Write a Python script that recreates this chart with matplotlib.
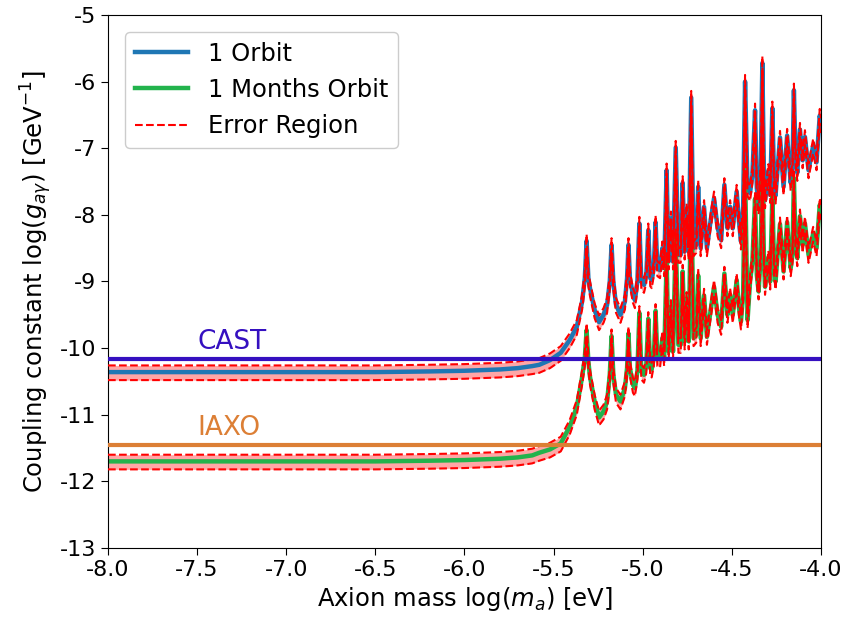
import matplotlib
matplotlib.use("Agg")
import matplotlib.pyplot as plt
import numpy as np

plt.rcParams['axes.unicode_minus'] = False
plt.rcParams['font.family'] = ['DejaVu Sans']
plt.rcParams['mathtext.fontset'] = 'dejavusans'

# ---- data ----
log_mass = [-8.0, -7.0, -6.5, -6.2, -6.0, -5.8, -5.7, -5.62, -5.58, -5.52, -5.46, -5.41, -5.37,
            -5.34, -5.325, -5.315, -5.305, -5.296, -5.27, -5.245, -5.22, -5.20, -5.185, -5.175,
            -5.165, -5.15, -5.125, -5.10, -5.088, -5.08, -5.072, -5.055, -5.044, -5.03, -5.019,
            -5.008, -4.993, -4.98, -4.969, -4.958, -4.95, -4.938, -4.928, -4.918, -4.903, -4.89,
            -4.88, -4.866, -4.855, -4.842, -4.83, -4.815, -4.80, -4.787, -4.776, -4.765, -4.754,
            -4.742, -4.728, -4.715, -4.70, -4.689, -4.675, -4.656, -4.64, -4.62, -4.60, -4.58,
            -4.56, -4.542, -4.525, -4.51, -4.495, -4.473, -4.46, -4.449, -4.437, -4.426, -4.412,
            -4.398, -4.385, -4.37, -4.36, -4.35, -4.338, -4.329, -4.32, -4.314, -4.295, -4.285,
            -4.273, -4.263, -4.255, -4.23, -4.21, -4.19, -4.17, -4.16, -4.152, -4.143, -4.133,
            -4.118, -4.103, -4.09, -4.07, -4.044, -4.025, -4.007, -4.0]

orbit_1 = [-10.36, -10.36, -10.36, -10.35, -10.34, -10.32, -10.30, -10.27, -10.25, -10.18, -10.07,
           -9.88, -9.68, -9.30, -8.95, -8.39, -8.95, -9.10, -9.43, -9.61, -9.50, -9.35, -9.00,
           -8.45, -9.00, -9.35, -9.50, -9.30, -8.95, -8.45, -8.95, -9.20, -9.28, -9.00, -8.13,
           -9.00, -9.05, -8.90, -8.23, -8.95, -8.98, -8.80, -8.11, -8.80, -8.83, -8.50, -8.80,
           -7.33, -8.70, -8.05, -8.70, -6.99, -8.60, -8.60, -7.52, -8.55, -7.93, -8.55, -6.24,
           -8.50, -8.45, -7.58, -8.50, -7.88, -8.50, -8.10, -7.75, -8.20, -8.38, -7.55, -8.20,
           -7.88, -8.20, -7.65, -8.10, -8.40, -7.90, -6.00, -7.60, -7.67, -7.40, -6.43, -7.60,
           -7.87, -7.30, -5.72, -7.40, -7.78, -7.34, -7.70, -6.40, -7.50, -7.71, -6.84, -7.58,
           -6.81, -7.52, -7.30, -6.13, -7.10, -7.37, -6.72, -7.18, -6.83, -7.33, -6.96, -7.21,
           -6.51, -6.65]

orbit_1_month = [-11.70, -11.70, -11.70, -11.69, -11.68, -11.66, -11.64, -11.61, -11.57, -11.52,
                 -11.43, -11.18, -10.88, -10.43, -10.15, -9.73, -10.20, -10.43, -10.80, -11.04,
                 -10.95, -10.80, -10.40, -9.82, -10.40, -10.70, -10.80, -10.60, -10.30, -9.78,
                 -10.30, -10.55, -10.60, -10.35, -9.47, -10.35, -10.40, -10.25, -9.56, -10.30,
                 -10.32, -10.15, -9.44, -10.15, -10.17, -9.85, -10.15, -8.66, -10.05, -9.38,
                 -10.05, -8.32, -9.95, -9.95, -8.85, -9.90, -9.26, -9.90, -7.57, -9.85, -9.80,
                 -8.91, -9.85, -9.21, -9.83, -9.45, -9.08, -9.50, -9.68, -8.88, -9.50, -9.20,
                 -9.50, -8.98, -9.40, -9.60, -9.20, -7.33, -9.58, -9.00, -8.70, -7.76, -8.90,
                 -9.15, -8.60, -7.05, -8.70, -9.08, -8.64, -9.00, -7.70, -8.80, -9.00, -8.14,
                 -8.85, -8.11, -8.80, -8.60, -7.45, -8.40, -8.65, -8.02, -8.45, -8.13, -8.60,
                 -8.28, -8.50, -7.85, -7.95]

err_up = 0.10     # half-width of error region above the curve (log units)
err_down = 0.12   # half-width below the curve

cast_limit = -10.17
iaxo_limit = -11.45

x_ticks = [-8.0, -7.5, -7.0, -6.5, -6.0, -5.5, -5.0, -4.5, -4.0]
y_ticks = [-13, -12, -11, -10, -9, -8, -7, -6, -5]

# ---- plotting ----
fig = plt.figure(figsize=(8.47, 6.24), dpi=100)
ax = fig.add_axes([0.1275, 0.1218, 0.8418, 0.8542])

x = np.array(log_mass)
series = [(np.array(orbit_1), '#1f77b4', '1 Orbit'),
          (np.array(orbit_1_month), '#22b34c', '1 Months Orbit')]

for y, col, lab in series:
    ax.fill_between(x, y - err_down, y + err_up, color='red', alpha=0.35, lw=0, zorder=1)
for y, col, lab in series:
    ax.plot(x, y, color=col, lw=3.2, label=lab, zorder=2)
first = True
for y, col, lab in series:
    ax.plot(x, y + err_up, color='red', ls='--', lw=1.5, zorder=3,
            label='Error Region' if first else None)
    ax.plot(x, y - err_down, color='red', ls='--', lw=1.5, zorder=3)
    first = False

ax.axhline(cast_limit, color='#3510c0', lw=3, zorder=4)
ax.axhline(iaxo_limit, color='#dc7f35', lw=3, zorder=4)
ax.text(-7.5, cast_limit + 0.06, 'CAST', color='#3510c0', fontsize=19, va='bottom', ha='left')
ax.text(-7.5, iaxo_limit + 0.06, 'IAXO', color='#dc7f35', fontsize=19, va='bottom', ha='left')

ax.set_xlim(-8.0, -4.0)
ax.set_ylim(-13, -5)
ax.set_xticks(x_ticks)
ax.set_xticklabels([f'{t:.1f}' for t in x_ticks])
ax.set_yticks(y_ticks)
ax.set_yticklabels([f'{t:d}' for t in y_ticks])
ax.tick_params(labelsize=16, length=5)
ax.set_xlabel(r'Axion mass log($m_a$) [eV]', fontsize=17.5)
ax.set_ylabel(r'Coupling constant log($g_{a\gamma}$) [GeV$^{-1}$]', fontsize=17.5)

leg = ax.legend(loc='upper left', fontsize=17.5, handlelength=2.2, framealpha=1,
                edgecolor='#cccccc', borderaxespad=0.7)

fig.savefig('out.png', dpi=100)
